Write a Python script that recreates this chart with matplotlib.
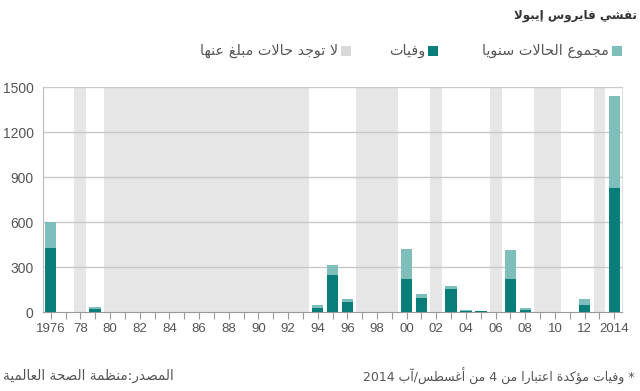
import re

import matplotlib
matplotlib.use("Agg")
import matplotlib.pyplot as plt
from matplotlib.patches import Rectangle

# Ebola outbreaks per year (WHO)
years = [1976, 1979, 1994, 1995, 1996, 2000, 2001, 2003, 2004, 2005, 2007, 2008, 2012, 2014]
cases = [602, 34, 52, 315, 90, 425, 122, 178, 17, 12, 413, 32, 88, 1440]
deaths = [431, 22, 31, 250, 68, 224, 97, 157, 7, 10, 224, 14, 50, 826]

# runs of years with no reported cases
no_report_from = [1978, 1980, 1997, 2002, 2006, 2009, 2013]
no_report_to = [1978, 1993, 1999, 2002, 2006, 2010, 2013]

y_ticks = [0, 300, 600, 900, 1200, 1500]
x_tick_years = list(range(1976, 2015, 2))
x_tick_labels = ["1976"] + ["%02d" % (y % 100) for y in x_tick_years[1:-1]] + ["2014"]

title = "تفشي فايروس إيبولا"
legend_cases = "مجموع الحالات سنويا"
legend_deaths = "وفيات"
legend_none = "لا توجد حالات مبلغ عنها"
source = "المصدر:منظمة الصحة العالمية"
note = "* وفيات مؤكدة اعتبارا من 4 من أغسطس/آب 2014"

DARK = "#087d79"
LIGHT = "#7fbfbb"
BAND = "#e6e6e6"
TEXT = "#555555"

# --- minimal Arabic shaping + right-to-left ordering (no raqm in matplotlib) ---
_letters = "ءآأؤإئابةتثجحخدذرزسشصضطظعغفقكلمنهوىي"
_counts = [1, 2, 2, 2, 2, 4, 2, 4, 2, 4, 4, 4, 4, 4, 2, 2, 2, 2, 4, 4, 4, 4,
           4, 4, 4, 4, 4, 4, 4, 4, 4, 4, 4, 2, 2, 4]
FORMS = {}
_cp = 0xFE80
for _ch, _n in zip(_letters, _counts):
    f = [chr(_cp + k) for k in range(_n)] + [None] * (4 - _n)
    FORMS[_ch] = f  # isolated, final, initial, medial
    _cp += _n
LAM_ALEF = {"آ": ("\uFEF5", "\uFEF6"), "أ": ("\uFEF7", "\uFEF8"),
            "إ": ("\uFEF9", "\uFEFA"), "ا": ("\uFEFB", "\uFEFC")}


def shape(s):
    out = []
    i = 0
    while i < len(s):
        c = s[i]
        if c not in FORMS:
            out.append(c)
            i += 1
            continue
        prev = s[i - 1] if i > 0 else ""
        joins_prev = prev in FORMS and FORMS[prev][2] is not None
        if c == "ل" and i + 1 < len(s) and s[i + 1] in LAM_ALEF:
            iso, fin = LAM_ALEF[s[i + 1]]
            out.append(fin if joins_prev else iso)
            i += 2
            continue
        nxt = s[i + 1] if i + 1 < len(s) else ""
        joins_next = FORMS[c][2] is not None and nxt in FORMS and FORMS[nxt][1] is not None
        iso, fin, ini, med = FORMS[c]
        if joins_prev and joins_next:
            out.append(med)
        elif joins_prev:
            out.append(fin)
        elif joins_next:
            out.append(ini)
        else:
            out.append(iso)
        i += 1
    return "".join(out)


def ar(s):
    runs = re.findall(r"[0-9]+|[^0-9]", shape(s))
    return "".join(reversed(runs))


AR_FONT = ["DejaVu Sans"]
NUM_FONT = ["Liberation Sans", "DejaVu Sans"]

W, H = 640, 391
fig = plt.figure(figsize=(W / 100, H / 100), dpi=100)
fig.patch.set_facecolor("white")
ax = fig.add_axes([43.3 / W, 1 - 312.3 / H, 578.7 / W, 225 / H])

# grey bands for years without reported cases
for a, b in zip(no_report_from, no_report_to):
    ax.axvspan(a - 0.4, b + 0.4, color=BAND, lw=0, zorder=0)

for y in y_ticks[1:]:
    ax.axhline(y, color="#c8c8c8", lw=1, zorder=1)

ax.bar(years, cases, width=0.78, color=LIGHT, zorder=2)
ax.bar(years, deaths, width=0.78, color=DARK, zorder=3)

ax.set_xlim(1975.5, 2014.52)
ax.set_ylim(0, 1500)
ax.set_xticks(range(1976, 2015), minor=True)
ax.set_xticks(x_tick_years)
ax.set_xticklabels(x_tick_labels, family=NUM_FONT, fontsize=9.5, color=TEXT)
ax.set_yticks(y_ticks)
ax.set_yticklabels([str(v) for v in y_ticks], family=NUM_FONT, fontsize=10, color=TEXT)
ax.tick_params(axis="x", which="both", direction="out", length=5, width=0.8,
               color="#999999", pad=3)
ax.tick_params(axis="y", length=0, pad=7)

ax.spines["top"].set_visible(False)
ax.spines["left"].set_color("#bbbbbb")
ax.spines["bottom"].set_color("#999999")
ax.spines["right"].set_color("#dddddd")


# title, legend and footer (pixel positions converted to figure fraction)
def ftext(x, y, s, **kw):
    fig.text(x / W, 1 - y / H, ar(s), family=AR_FONT, **kw)


ftext(637, 15, title, ha="right", va="center", fontsize=8.6, fontweight="bold", color="#333333")

for x0, col, label in [(612, LIGHT, legend_cases), (428, DARK, legend_deaths),
                       (341, "#d9d9d9", legend_none)]:
    fig.add_artist(Rectangle((x0 / W, 1 - 55.5 / H), 10 / W, 10 / H,
                             transform=fig.transFigure, color=col, lw=0))
    ftext(x0 - 3, 50.5, label, ha="right", va="center", fontsize=10.4, color=TEXT)

ftext(3, 376, source, ha="left", va="center", fontsize=9.8, color=TEXT)
ftext(635, 376, note, ha="right", va="center", fontsize=9, color=TEXT)

fig.savefig("out.png", dpi=100, facecolor="white")
